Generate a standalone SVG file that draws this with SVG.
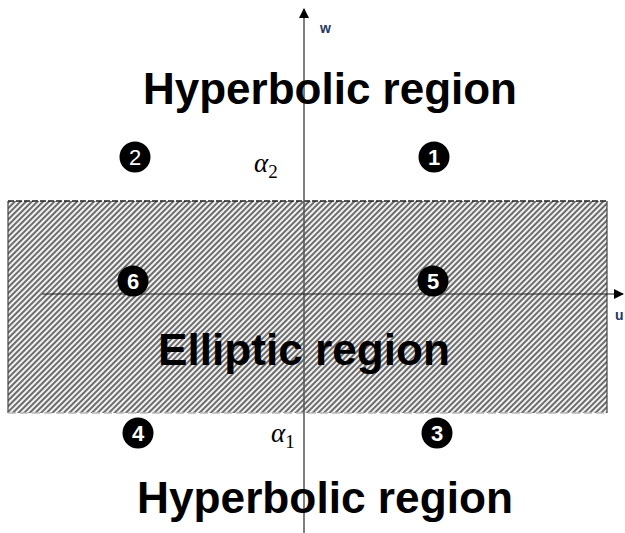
<svg xmlns="http://www.w3.org/2000/svg" width="625" height="533" viewBox="0 0 625 533">
<style>
.big{font-family:"Liberation Sans",Arial,sans-serif;font-weight:bold;font-size:44px;fill:#000}
.ax{font-family:"Liberation Sans",Arial,sans-serif;font-weight:bold;font-size:14px;fill:#1f3864}
.al{font-family:"Liberation Serif","Times New Roman",serif;font-style:italic;font-size:27px;fill:#000}
.sub{font-family:"Liberation Serif","Times New Roman",serif;font-style:normal;font-size:19px;fill:#000}
.num{font-family:"Liberation Sans",Arial,sans-serif;font-weight:bold;font-size:22px;fill:#fff;text-anchor:middle}
.dot{fill:#000}
</style>
<defs>
<pattern id="hatch" width="4" height="4" patternUnits="userSpaceOnUse" patternTransform="rotate(45)">
<rect width="4" height="4" fill="#f2f2f2"/>
<line x1="1" y1="0" x2="1" y2="4" stroke="#333" stroke-width="1.4"/>
</pattern>
<marker id="arr" markerWidth="10" markerHeight="10" refX="9" refY="5" orient="auto" markerUnits="userSpaceOnUse">
<path d="M0,0 L10,5 L0,10 Z" fill="#000"/>
</marker>
</defs>
<rect width="625" height="533" fill="#fff"/>
<g id="elliptic-region">
<rect x="8" y="201" width="599" height="212" fill="url(#hatch)"/>
<line x1="8" y1="201" x2="607" y2="201" stroke="#222" stroke-width="1.5" stroke-dasharray="6,2"/>
<line x1="8" y1="201" x2="8" y2="413" stroke="#444" stroke-width="1.2"/>
<line x1="607" y1="201" x2="607" y2="413" stroke="#444" stroke-width="1.2"/>
<line x1="8" y1="413" x2="607" y2="413" stroke="#bbb" stroke-width="1.5" stroke-dasharray="8,4"/>
</g>
<g id="connectors">
<line x1="304" y1="533" x2="304" y2="9" stroke="#555" stroke-width="1.5" marker-end="url(#arr)"/>
<line x1="42" y1="294" x2="623" y2="294" stroke="#222" stroke-width="1.2" marker-end="url(#arr)"/>
</g>
<g id="labels">
<text class="ax" x="320" y="33">w</text>
<text class="ax" x="615" y="320">u</text>
<text class="big" x="143" y="104" textLength="374" lengthAdjust="spacingAndGlyphs">Hyperbolic region</text>
<text class="big" x="158" y="365" textLength="292" lengthAdjust="spacingAndGlyphs">Elliptic region</text>
<text class="big" x="137" y="513" textLength="376" lengthAdjust="spacingAndGlyphs">Hyperbolic region</text>
<text class="al" x="254" y="172">α<tspan class="sub" dy="6">2</tspan></text>
<text class="al" x="271" y="442">α<tspan class="sub" dy="6">1</tspan></text>
</g>
<g id="n1"><circle class="dot" cx="434" cy="157" r="15.5"/><text class="num" x="434" y="165">1</text></g>
<g id="n2"><circle class="dot" cx="135" cy="157" r="15.5"/><text class="num" x="135" y="165" style="font-weight:normal">2</text></g>
<g id="n3"><circle class="dot" cx="437" cy="433" r="15.5"/><text class="num" x="437" y="441">3</text></g>
<g id="n4"><circle class="dot" cx="138" cy="433" r="15.5"/><text class="num" x="138" y="441">4</text></g>
<g id="n5"><circle class="dot" cx="433" cy="281" r="15.5"/><text class="num" x="433" y="289">5</text></g>
<g id="n6"><circle class="dot" cx="133" cy="281" r="15.5"/><text class="num" x="133" y="289">6</text></g>
</svg>
